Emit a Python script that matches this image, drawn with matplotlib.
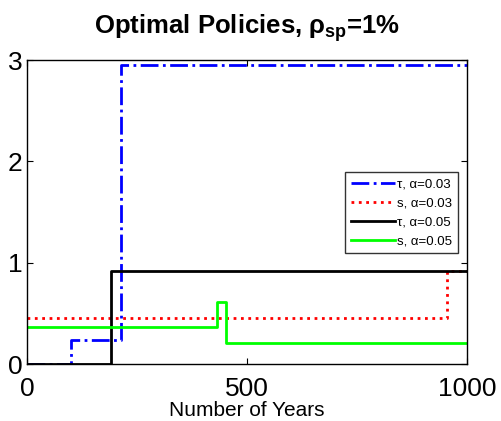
import matplotlib.pyplot as plt

plt.rcParams['font.family'] = ['Liberation Sans', 'DejaVu Sans']
plt.rcParams['mathtext.fontset'] = 'custom'
plt.rcParams['mathtext.rm'] = 'Liberation Sans'
plt.rcParams['mathtext.it'] = 'Liberation Sans:italic'
plt.rcParams['mathtext.bf'] = 'Liberation Sans:bold'

# step breakpoints (years) and policy levels
tau_03_years = [0, 100, 213, 1000]
tau_03_vals = [0.0, 0.24, 2.95, 2.95]
s_03_years = [0, 954, 1000]
s_03_vals = [0.45, 0.92, 0.92]
tau_05_years = [0, 190, 1000]
tau_05_vals = [0.0, 0.92, 0.92]
s_05_years = [0, 431, 452, 1000]
s_05_vals = [0.37, 0.61, 0.21, 0.21]

fig = plt.figure(figsize=(5.01, 4.21), dpi=100)
ax = fig.add_axes([27 / 501, 1 - 364 / 421, 440 / 501, 304 / 421])

ax.plot(tau_03_years, tau_03_vals, drawstyle='steps-post', color='blue',
        linestyle='-.', linewidth=2, label='τ, α=0.03')
ax.plot(s_03_years, s_03_vals, drawstyle='steps-post', color='red',
        linestyle=':', linewidth=2, label='s, α=0.03')
ax.plot(tau_05_years, tau_05_vals, drawstyle='steps-post', color='black',
        linestyle='-', linewidth=2, label='τ, α=0.05')
ax.plot(s_05_years, s_05_vals, drawstyle='steps-post', color='#00ff00',
        linestyle='-', linewidth=2, label='s, α=0.05')

ax.set_xlim(0, 1000)
ax.set_ylim(0, 3)
ax.set_xticks([0, 500, 1000])
ax.set_yticks([0, 1, 2, 3])
ax.tick_params(direction='in', top=True, right=True, labelsize=19, length=4)
ax.tick_params(axis='x', pad=9)
ax.tick_params(axis='y', pad=3)
for sp in ax.spines.values():
    sp.set_linewidth(1)

ax.set_title(r'Optimal Policies, ρ$_{\mathbf{sp}}$=1%', fontsize=18.5,
             fontweight='bold', pad=19)
ax.set_xlabel('Number of Years', fontsize=15, labelpad=0)

leg = ax.legend(loc='upper right', bbox_to_anchor=(0.98, 0.63), fontsize=9.5,
                frameon=True, fancybox=False, edgecolor='black',
                handlelength=3.3, handletextpad=0.2, borderpad=0.45,
                labelspacing=0.5, borderaxespad=0)
leg.get_frame().set_linewidth(1)

fig.savefig('out.png', dpi=100)
